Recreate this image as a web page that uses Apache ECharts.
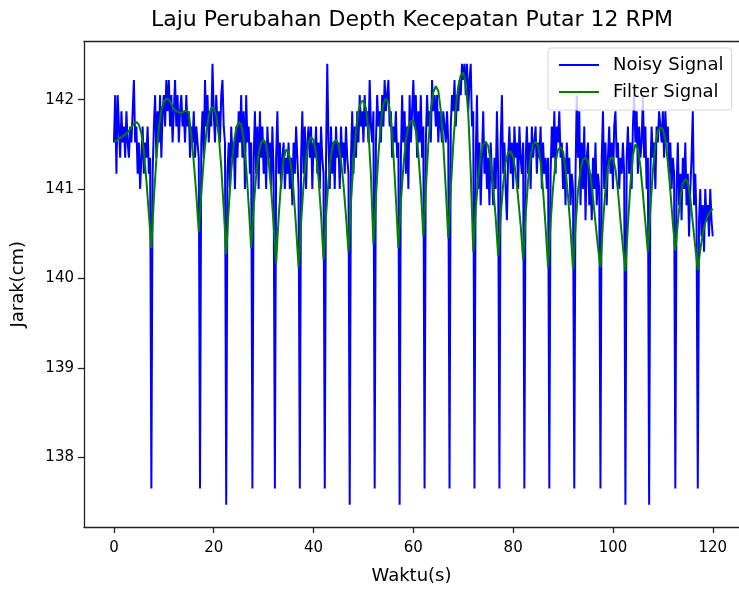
<!DOCTYPE html>
<html>
<head>
<meta charset="utf-8">
<title>Laju Perubahan Depth Kecepatan Putar 12 RPM</title>
<script src="https://cdn.jsdelivr.net/npm/echarts@6/dist/echarts.min.js"></script>
<style>
  html, body { margin: 0; padding: 0; background: #fff; }
  #chart { width: 739px; height: 590px; }
</style>
</head>
<body>
<div id="chart"></div>
<script>
// sample spacing (s) of the two recorded signals
const noisyStep = 0.25;
const filterStep = 0.5;

// Noisy Signal, jarak (cm), one value every 0.25 s from 0 to 120 s
const noisySignal = [
  // 0 - 7.5
  141.52, 142.05, 141.17, 142.05, 141.70, 141.35, 141.87, 141.52, 141.70, 141.35,
  141.87, 141.52, 141.35, 141.70, 141.52, 141.87, 142.22, 141.52, 141.70, 141.17,
  141.52, 141.00, 141.35, 141.70, 141.17, 141.52, 141.35, 141.70, 141.17, 141.35,
  137.65,
  // 7.75 - 17.25
  141.17, 141.70, 142.05, 141.35, 141.87, 141.52, 142.05, 141.35, 141.87, 142.05,
  141.70, 142.22, 141.87, 142.22, 141.70, 142.05, 141.52, 141.87, 142.22, 141.70,
  142.05, 141.52, 141.87, 142.05, 141.70, 141.87, 141.52, 142.05, 141.70, 141.87,
  141.35, 141.70, 141.52, 141.87, 141.35, 141.70, 141.52, 141.35, 137.65,
  // 17.5 - 22.5
  141.52, 141.87, 141.35, 142.22, 141.70, 142.05, 141.52, 141.87, 141.70, 142.40,
  141.87, 141.52, 142.05, 141.70, 141.87, 141.52, 142.05, 142.22, 141.70, 141.52,
  137.47,
  // 22.75 - 27.75
  141.17, 141.52, 141.00, 141.70, 141.35, 141.52, 141.00, 141.70, 141.35, 141.87,
  141.52, 142.05, 141.35, 141.87, 141.00, 142.05, 141.52, 141.70, 141.17, 141.52,
  137.65,
  // 28 - 32.25
  141.35, 141.87, 141.17, 141.70, 141.00, 141.87, 141.35, 141.70, 141.17, 141.52,
  141.00, 141.70, 141.35, 141.52, 141.00, 141.70, 141.17, 137.65,
  // 32.5 - 37.25
  141.35, 141.87, 141.17, 141.52, 141.00, 141.35, 141.52, 141.00, 141.35, 141.17,
  141.52, 141.00, 141.35, 140.82, 141.52, 141.17, 141.70, 141.35, 141.00, 137.65,
  // 37.5 - 42.25
  141.35, 141.87, 141.17, 141.70, 141.00, 141.52, 141.70, 141.35, 141.70, 141.00,
  141.52, 141.35, 141.70, 141.17, 141.52, 141.00, 141.70, 141.35, 141.17, 137.65,
  // 42.5 - 47.25
  141.35, 142.40, 141.52, 141.00, 141.70, 141.17, 141.52, 141.00, 141.70, 141.35,
  141.52, 141.00, 141.70, 141.35, 141.52, 141.17, 141.70, 141.35, 141.17, 137.47,
  // 47.5 - 52.25
  141.35, 141.87, 141.17, 141.70, 141.35, 141.87, 141.52, 142.05, 141.70, 141.87,
  141.52, 142.05, 141.70, 141.87, 141.52, 142.22, 141.70, 141.52, 141.87, 137.65,
  // 52.5 - 57.25
  141.52, 142.05, 141.70, 141.87, 141.52, 142.05, 141.70, 142.22, 141.87, 142.05,
  142.22, 141.70, 141.87, 141.35, 141.70, 141.52, 141.87, 141.35, 141.52, 137.47,
  // 57.5 - 62.25
  141.35, 142.05, 141.52, 141.87, 141.17, 141.70, 141.00, 142.05, 141.52, 141.87,
  142.22, 141.70, 142.05, 141.35, 141.87, 141.52, 142.05, 141.35, 141.70, 137.65,
  // 62.5 - 67.25
  141.52, 142.05, 141.70, 141.87, 141.52, 142.22, 141.87, 142.05, 141.70, 142.05,
  141.52, 141.87, 141.70, 141.52, 141.87, 141.70, 141.52, 141.87, 141.52, 137.65,
  // 67.5 - 72.25
  141.70, 142.05, 141.87, 142.22, 141.70, 142.05, 141.87, 142.22, 142.05, 142.40,
  142.22, 142.40, 142.05, 142.40, 141.87, 142.22, 142.40, 141.70, 141.87, 137.65,
  // 72.5 - 77.25
  141.35, 142.05, 141.00, 141.52, 140.82, 141.35, 141.87, 141.17, 141.52, 141.00,
  141.35, 140.82, 141.52, 141.17, 140.82, 141.35, 141.00, 141.87, 141.17, 137.65,
  // 77.5 - 82.25
  141.52, 142.05, 141.17, 141.52, 141.00, 140.65, 141.35, 141.70, 141.17, 141.52,
  141.00, 141.70, 141.35, 141.52, 141.00, 141.70, 141.35, 141.17, 141.52, 137.65,
  // 82.5 - 87.25
  141.35, 141.70, 141.17, 141.52, 141.00, 141.70, 141.35, 141.52, 141.70, 141.17,
  141.52, 141.35, 141.70, 141.00, 141.52, 141.17, 141.35, 141.00, 141.35, 137.65,
  // 87.5 - 92.25
  141.17, 141.70, 141.35, 141.87, 141.17, 141.70, 141.52, 141.87, 141.35, 141.52,
  141.00, 141.35, 140.82, 141.52, 141.17, 141.35, 140.82, 141.17, 141.00, 137.65,
  // 92.5 - 97.5
  141.17, 142.05, 141.35, 141.87, 140.82, 141.52, 141.00, 141.70, 140.65, 141.35,
  141.52, 140.82, 141.17, 140.65, 141.35, 141.00, 141.52, 140.82, 141.17, 141.00,
  137.65,
  // 97.75 - 102.5
  141.35, 141.87, 141.00, 141.52, 140.82, 141.35, 141.70, 141.17, 141.52, 141.00,
  141.70, 141.87, 141.35, 141.52, 141.00, 141.35, 141.17, 141.52, 141.17, 137.47,
  // 102.75 - 107.25
  141.35, 141.70, 141.17, 141.52, 141.00, 141.70, 142.05, 141.52, 141.87, 141.17,
  141.70, 141.35, 141.52, 142.05, 141.35, 141.70, 141.00, 141.35, 137.47,
  // 107.5 - 112.5
  141.17, 141.70, 141.35, 141.52, 141.00, 141.70, 141.52, 141.87, 141.70, 141.52,
  141.87, 141.35, 141.87, 141.52, 141.70, 141.17, 141.52, 141.00, 141.35, 141.17,
  137.65,
  // 112.75 - 117
  141.00, 141.52, 140.82, 141.17, 140.65, 141.35, 141.00, 141.52, 140.82, 141.17,
  140.47, 141.00, 141.35, 141.87, 140.82, 141.17, 140.65, 137.65,
  // 117.25 - 120
  140.65, 141.00, 140.47, 140.82, 140.30, 141.00, 140.65, 140.82, 140.47, 141.00,
  140.65, 140.47
];

// Filter Signal, jarak (cm), one value every 0.5 s from 0 to 120 s
const filterSignal = [
  141.53, 141.54, 141.56, 141.58, 141.60, 141.62, 141.65, 141.69, 141.73, 141.75,   // 0 - 4.5
  141.72, 141.62, 141.42, 141.10, 140.72, 140.34,                                   // 5 - 7.5
  140.89, 141.34, 141.68, 141.88, 141.98, 142.01,                                   // 8 - 10.5
  142.00, 141.95, 141.90, 141.87, 141.86, 141.85, 141.87, 141.88, 141.85, 141.60,   // 11 - 15.5
  141.30, 140.95, 140.52,                                                           // 16 - 17
  140.95, 141.33, 141.62, 141.82, 141.91, 141.91, 141.82, 141.60, 141.25, 140.78, 140.27, // 17.5 - 22.5
  140.78, 141.20, 141.50, 141.68, 141.75, 141.72, 141.55, 141.25, 140.82, 140.34,   // 23 - 27.5
  140.80, 141.15, 141.40, 141.52, 141.55, 141.50, 141.30, 141.00, 140.60, 140.16,   // 28 - 32.5
  140.68, 141.08, 141.33, 141.44, 141.42, 141.25, 140.97, 140.58, 140.12,           // 33 - 37
  140.62, 141.05, 141.35, 141.52, 141.58, 141.55, 141.40, 141.12, 140.72, 140.21,   // 37.5 - 42
  140.70, 141.10, 141.38, 141.52, 141.55, 141.50, 141.32, 141.05, 140.70, 140.30,   // 42.5 - 47
  140.85, 141.30, 141.65, 141.87, 141.97, 141.99, 141.90, 141.65, 141.15, 140.38,   // 47.5 - 52
  140.90, 141.38, 141.75, 141.95, 142.01, 141.98, 141.78, 141.40, 140.90, 140.34,   // 52.5 - 57
  140.85, 141.25, 141.55, 141.70, 141.76, 141.76, 141.65, 141.40, 141.00, 140.47,   // 57.5 - 62
  141.00, 141.50, 141.88, 142.08, 142.15, 142.10, 141.88, 141.50, 141.00, 140.45,   // 62.5 - 67
  141.00, 141.50, 141.90, 142.15, 142.27, 142.30, 142.18, 141.85, 141.20, 140.30,   // 67.5 - 72
  140.78, 141.12, 141.38, 141.50, 141.53, 141.48, 141.30, 141.02, 140.68, 140.25,   // 72.5 - 77
  140.70, 141.05, 141.30, 141.41, 141.42, 141.36, 141.18, 140.90, 140.60, 140.21,   // 77.5 - 82
  140.70, 141.10, 141.37, 141.50, 141.53, 141.48, 141.30, 140.98, 140.58, 140.12,   // 82.5 - 87
  140.62, 141.02, 141.30, 141.44, 141.47, 141.42, 141.22, 140.92, 140.55, 140.10,   // 87.5 - 92
  140.58, 140.98, 141.22, 141.33, 141.35, 141.30, 141.15, 140.90, 140.62, 140.35, 140.12, // 92.5 - 97.5
  140.62, 141.00, 141.25, 141.35, 141.35, 141.22, 140.98, 140.65, 140.35, 140.08,   // 98 - 102.5
  140.60, 141.05, 141.38, 141.50, 141.45, 141.25, 140.95, 140.62, 140.29,           // 103 - 107
  140.78, 141.20, 141.50, 141.65, 141.69, 141.67, 141.55, 141.30, 140.98, 140.62, 140.31, // 107.5 - 112.5
  140.62, 140.90, 141.06, 141.11, 141.08, 140.90, 140.62, 140.35, 140.09,           // 113 - 117
  140.32, 140.50, 140.62, 140.70, 140.75, 140.78                                    // 117.5 - 120
];

const xTicks = [0, 20, 40, 60, 80, 100, 120];
const yTicks = [138, 139, 140, 141, 142];

const FONT = "DejaVu Sans";
const SPINE = { color: "#222", width: 1.3 };

const toPairs = (values, step) => values.map((v, i) => [i * step, v]);

const chart = echarts.init(document.getElementById("chart"), null, { renderer: "canvas" });

chart.setOption({
  animation: false,
  backgroundColor: "#ffffff",
  textStyle: { fontFamily: FONT },
  title: {
    text: "Laju Perubahan Depth Kecepatan Putar 12 RPM",
    left: 412,
    top: 9,
    padding: 0,
    textAlign: "center",
    textStyle: { fontFamily: FONT, fontSize: 22, fontWeight: "normal", color: "#000" }
  },
  legend: {
    orient: "vertical",
    left: 548,
    top: 48,
    padding: [8, 8, 9, 11],
    itemGap: 9,
    itemWidth: 40,
    itemHeight: 2,
    icon: "rect",
    backgroundColor: "rgba(255,255,255,0.8)",
    borderColor: "#d6d6d6",
    borderWidth: 1,
    borderRadius: 3,
    textStyle: { fontFamily: FONT, fontSize: 18, lineHeight: 18, color: "#000", padding: [0, 0, 0, 9] },
    data: ["Noisy Signal", "Filter Signal"]
  },
  grid: {
    left: 84,
    right: 0,
    top: 41.5,
    bottom: 59,
    show: false
  },
  xAxis: [
    {
      type: "value",
      min: -6,
      max: 125.26,
      name: "Waktu(s)",
      nameLocation: "middle",
      nameGap: 40,
      nameTextStyle: { fontFamily: FONT, fontSize: 18, color: "#000" },
      axisLine: { show: true, onZero: false, lineStyle: SPINE },
      axisTick: { show: true, length: 6, lineStyle: SPINE, customValues: xTicks },
      axisLabel: { fontFamily: FONT, fontSize: 15, color: "#000", margin: 14, customValues: xTicks },
      splitLine: { show: false }
    },
    {
      // top spine only
      type: "value",
      position: "top",
      min: -6,
      max: 125.26,
      axisLine: { show: true, onZero: false, lineStyle: SPINE },
      axisTick: { show: false },
      axisLabel: { show: false },
      splitLine: { show: false }
    }
  ],
  yAxis: {
    type: "value",
    min: 137.22,
    max: 142.65,
    name: "Jarak(cm)",
    nameLocation: "middle",
    nameRotate: 90,
    nameGap: 57,
    nameTextStyle: { fontFamily: FONT, fontSize: 18, color: "#000" },
    axisLine: { show: true, onZero: false, lineStyle: SPINE },
    axisTick: { show: true, length: 6, lineStyle: SPINE, customValues: yTicks },
    axisLabel: { fontFamily: FONT, fontSize: 15, color: "#000", margin: 10, customValues: yTicks },
    splitLine: { show: false }
  },
  series: [
    {
      name: "Noisy Signal",
      type: "line",
      data: toPairs(noisySignal, noisyStep),
      showSymbol: false,
      symbol: "none",
      color: "#0000ff",
      lineStyle: { color: "#0000ff", width: 2 },
      z: 2
    },
    {
      name: "Filter Signal",
      type: "line",
      data: toPairs(filterSignal, filterStep),
      showSymbol: false,
      symbol: "none",
      color: "#008000",
      lineStyle: { color: "#008000", width: 2 },
      z: 3
    }
  ]
});
</script>
</body>
</html>
